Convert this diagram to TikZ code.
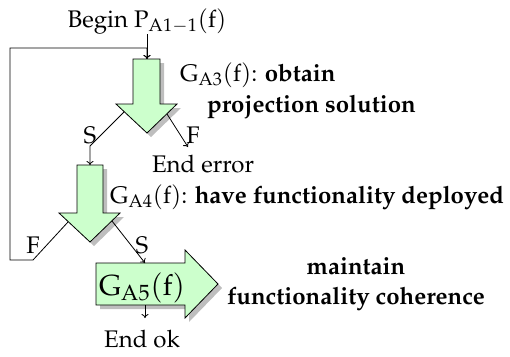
\documentclass[tikz,border=0pt]{standalone}
\usepackage[T1]{fontenc}
\usepackage{mathpazo}
\usetikzlibrary{arrows.meta}
\definecolor{arrgreen}{RGB}{204,255,204}
\definecolor{shadowgray}{RGB}{190,190,190}
\newcommand{\fnG}[1]{$\mathrm{G}_{\mathrm{A}\oldstylenums{#1}}(\mathrm{f})$}
\begin{document}
\begin{tikzpicture}[x=1pt,y=-1pt,
  txt/.style={inner sep=0pt,anchor=base,font=\fontsize{24}{29}\selectfont},
  conn/.style={line width=0.8pt,-{To[length=4pt,width=7pt]}},
  greenarrow/.style={fill=arrgreen,draw=black,line width=0.8pt},
  shad/.style={fill=shadowgray}]
\useasboundingbox (0,0) rectangle (510,356);
% shapes
\begin{scope}[shift={(4,4)}]
\fill[shad] (133,59) -- (160,59) -- (160,104) -- (177,104) -- (147,133) -- (116,104) -- (133,104) -- cycle;
\fill[shad] (77,165) -- (103,165) -- (103,213) -- (120,213) -- (90,242) -- (59,213) -- (77,213) -- cycle;
\fill[shad] (96,263) -- (185,263) -- (185,250) -- (218,284) -- (185,318) -- (185,305) -- (96,305) -- cycle;
\end{scope}
\path[greenarrow] (133,59) -- (160,59) -- (160,104) -- (177,104) -- (147,133) -- (116,104) -- (133,104) -- cycle;
\path[greenarrow] (77,165) -- (103,165) -- (103,213) -- (120,213) -- (90,242) -- (59,213) -- (77,213) -- cycle;
\path[greenarrow] (96,263) -- (185,263) -- (185,250) -- (218,284) -- (185,318) -- (185,305) -- (96,305) -- cycle;
% coordinates
\coordinate (a1top) at (147,59);
\coordinate (a1l) at (124,112);
\coordinate (a1r) at (167,114);
\coordinate (a2top) at (90,165);
\coordinate (a2l) at (68,222);
\coordinate (a2r) at (112,221);
\coordinate (a3top) at (145,263);
\coordinate (a3bot) at (145,305);
\coordinate (fb1) at (33,260);
\coordinate (fb2) at (10,260);
\coordinate (fb3) at (10,48);
\coordinate (fb4) at (147,48);
\coordinate (sb) at (90,146);
\coordinate (ferr) at (188,147);
\coordinate (okend) at (145,318);
% texts
\node[txt] (begin) at (147,27) {Begin $\mathrm{P}_{\mathrm{A}\oldstylenums{1}-\oldstylenums{1}}(\mathrm{f})$};
\coordinate (bstart) at (147,34);
\node[txt,anchor=base west] (g3a) at (180,81) {\fnG{3}: \textbf{obtain}};
\node[txt,anchor=base west] (g3b) at (207,112) {\textbf{projection solution}};
\node[txt] (enderr) at (203,172) {End error};
\node[txt,anchor=base west] (g4) at (110,203) {\fnG{4}: \textbf{have functionality deployed}};
\node[txt,font=\fontsize{29}{35}\selectfont] (g5) at (142,295) {\fnG{5}};
\node[txt] (m1) at (356,274) {\textbf{maintain}};
\node[txt] (m2) at (356,304) {\textbf{functionality coherence}};
\node[txt] (endok) at (142,347) {End ok};
\node[txt] (s1) at (90,143) {S};
\node[txt] (f1) at (193,143) {F};
\node[txt] (f2) at (33,253) {F};
\node[txt] (s2) at (142,253) {S};
% connectors
\draw[conn] (bstart) -- (a1top);
\draw[conn] (a2l) -- (fb1) -- (fb2) -- (fb3) -- (fb4) -- (a1top);
\draw[conn] (a1l) -- (sb) -- (a2top);
\draw[conn] (a1r) -- (ferr);
\draw[conn] (a2r) -- (a3top);
\draw[conn] (a3bot) -- (okend);
\end{tikzpicture}
\end{document}
